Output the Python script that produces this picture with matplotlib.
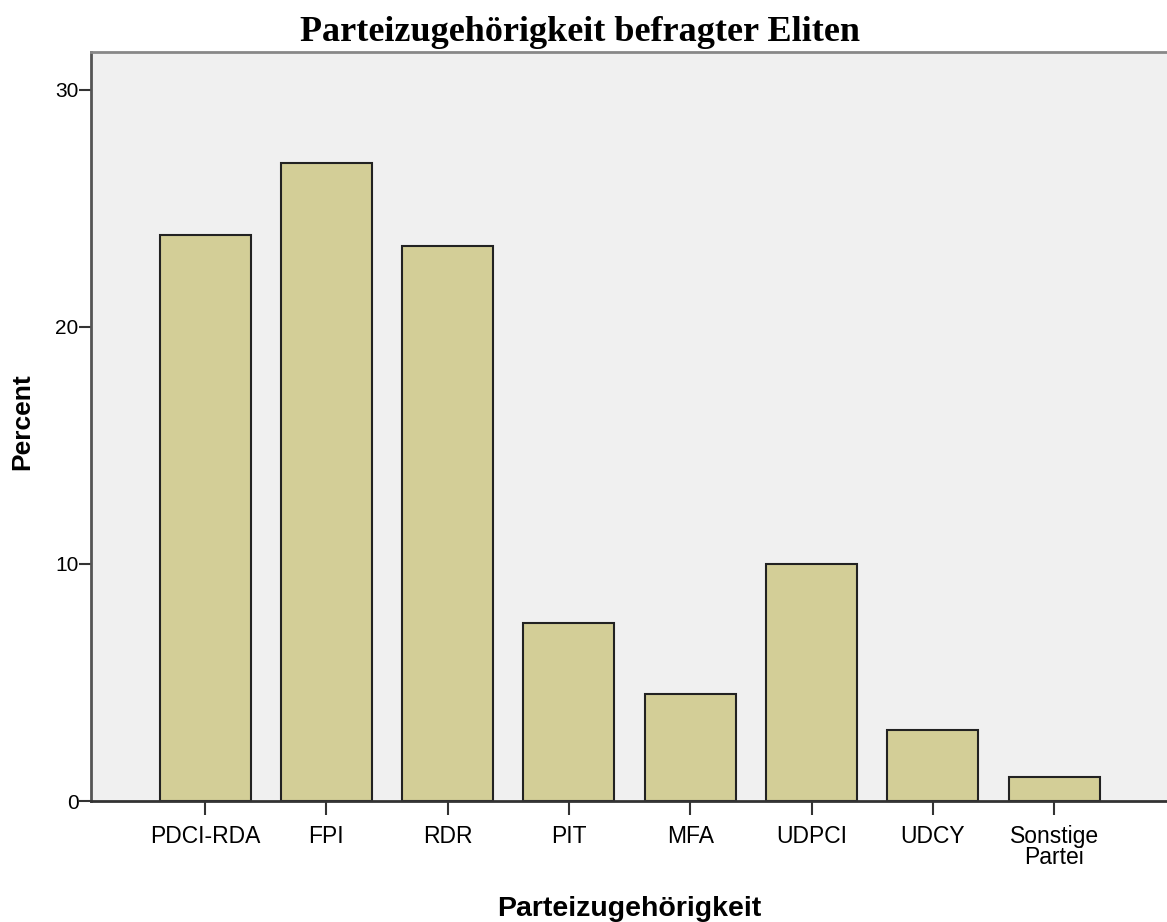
import matplotlib
matplotlib.use("Agg")
from matplotlib import pyplot as plt
import numpy as np

parties = ["PDCI-RDA", "FPI", "RDR", "PIT", "MFA", "UDPCI", "UDCY", "Sonstige\nPartei"]
percent = [23.9, 26.9, 23.4, 7.5, 4.5, 10.0, 3.0, 1.0]
yticks = [0, 10, 20, 30]

fig = plt.figure(figsize=(11.67, 9.22), dpi=100)
ax = fig.add_axes([0.078, 0.1312, 0.922, 0.8124])
ax.set_facecolor("#f0f0f0")

x = np.arange(len(parties))
ax.bar(x, percent, width=0.75, color="#d3ce97", edgecolor="#222222", linewidth=1.5, zorder=2)

ax.set_xlim(-0.94, 7.93)
ax.set_ylim(0, 31.6)
ax.set_xticks(x)
ax.set_xticklabels(parties, fontsize=16.5, family="Liberation Sans", linespacing=0.9)
ax.set_yticks(yticks)
ax.set_yticklabels([str(v) for v in yticks], fontsize=15, family="Liberation Sans")
ax.tick_params(axis="x", length=10, width=1.5, color="#333333", pad=7)
ax.tick_params(axis="y", length=9, width=1.5, color="#333333", pad=0)

ax.spines["right"].set_visible(False)
ax.spines["top"].set_color("#888888")
ax.spines["top"].set_linewidth(2)
ax.spines["left"].set_color("#555555")
ax.spines["left"].set_linewidth(2)
ax.spines["bottom"].set_color("#333333")
ax.spines["bottom"].set_linewidth(2)

ax.set_ylabel("Percent", fontsize=19, fontweight="bold", family="Liberation Sans")
ax.yaxis.set_label_coords(-0.053, 0.507)
ax.set_xlabel("Parteizugehörigkeit", fontsize=20.5, fontweight="bold", family="Liberation Sans")
ax.xaxis.set_label_coords(0.5, -0.127)
fig.text(0.497, 0.965, "Parteizugehörigkeit befragter Eliten", ha="center", va="center",
         fontsize=26, fontweight="bold", family="Liberation Serif")

fig.savefig("out.png", dpi=100)
